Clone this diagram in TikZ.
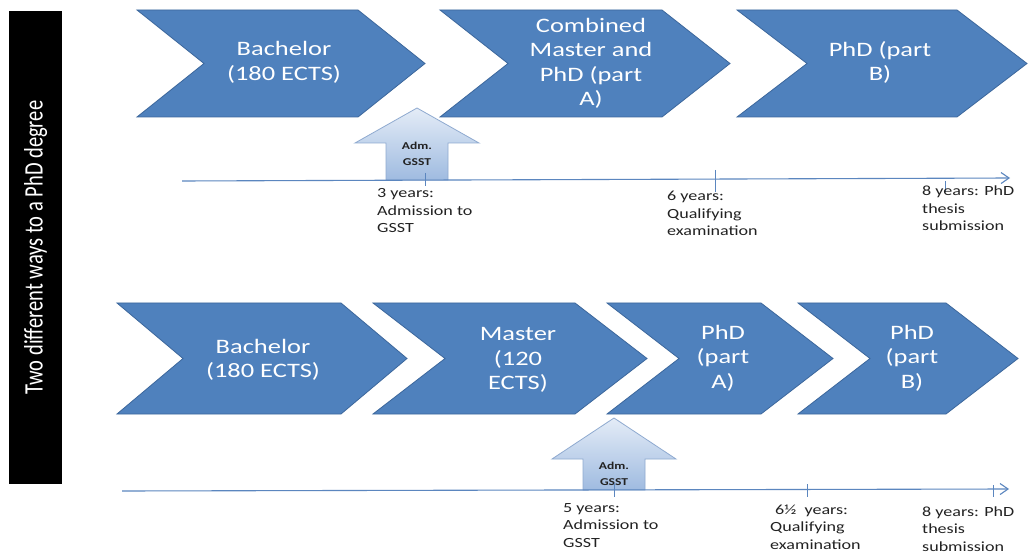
\documentclass[tikz,border=0pt]{standalone}
\usepackage{fontspec}
\setmainfont{Carlito}
\newfontfamily\widefont{Carlito}[FakeStretch=1.29]
\usetikzlibrary{arrows.meta}
\definecolor{chevfill}{HTML}{4F81BD}
\definecolor{chevdraw}{HTML}{3C679C}
\definecolor{linecol}{HTML}{5B86BF}
\definecolor{arrtop}{HTML}{E4ECF7}
\definecolor{arrbot}{HTML}{9FBBE0}
\definecolor{arrdraw}{HTML}{8FAAD0}
\definecolor{labcol}{HTML}{222222}
\tikzset{
 chev/.style={fill=chevfill, draw=chevdraw, line width=0.8pt, line join=miter},
 chevtext/.style={text=white, font=\widefont\fontsize{20.5}{24.5}\selectfont, align=center, inner sep=0},
 admarrow/.style={top color=arrtop, bottom color=arrbot, draw=arrdraw, line width=0.8pt},
 admtext/.style={font=\widefont\bfseries\fontsize{10.5}{12}\selectfont, align=center, inner sep=0, text=labcol},
 timeline/.style={draw=linecol, line width=1.1pt, -{Straight Barb[length=8pt,width=11pt]}},
 tickmark/.style={draw=linecol, line width=1pt},
 lab/.style={font=\widefont\fontsize{14}{17.5}\selectfont, align=left, inner sep=0, anchor=base west, text=labcol},
 bartext/.style={rotate=90, text=white, font=\fontsize{20.5}{24}\selectfont, inner sep=0},
}
\newcommand{\chevshape}[5]{\draw[chev] (#1,#3) -- ({#2-#5},#3) -- (#2,{(#3+#4)/2}) -- ({#2-#5},#4) -- (#1,#4) -- ({#1+#5},{(#3+#4)/2}) -- cycle;}
\newcommand{\admshape}[4]{\draw[admarrow] (#1,#2) -- ({#1+62},#3) -- ({#1+31},#3) -- ({#1+31},#4) -- ({#1-31},#4) -- ({#1-31},#3) -- ({#1-62},#3) -- cycle;}
\begin{document}
\begin{tikzpicture}[x=1pt,y=-1pt]
\useasboundingbox (0,0) rectangle (1028,553);
\fill[white] (0,0) rectangle (1028,553);
% left bar
\node[fill=black, minimum width=53pt, minimum height=473pt, inner sep=0, anchor=north west] (bar) at (9,11) {};
\node[bartext] (bartitle) at (bar.center) {\scalebox{1}[1.3]{Two different ways to a PhD degree}};
% top row chevrons
\chevshape{137}{425}{10}{117}{67}
\chevshape{440}{730}{10}{117}{68}
\chevshape{737}{1027}{10}{117}{70}
\node[chevtext] (c1) at (284,62.5) {Bachelor\\(180 ECTS)};
\node[chevtext] (c2) at (591,63.5) {Combined\\Master and\\PhD (part\\A)};
\node[chevtext] (c3) at (880,62.5) {PhD (part\\B)};
% bottom row chevrons
\chevshape{117}{407}{303}{414}{66}
\chevshape{373}{647}{303}{414}{72}
\chevshape{607}{833}{303}{414}{72}
\chevshape{798}{1018}{303}{414}{72}
\node[chevtext] (b1) at (263,360) {Bachelor\\(180 ECTS)};
\node[chevtext] (b2) at (518,360) {Master\\(120\\ECTS)};
\node[chevtext] (b3) at (723,358) {PhD\\(part\\A)};
\node[chevtext] (b4) at (912,358) {PhD\\(part\\B)};
% admission arrows
\admshape{417}{108}{143}{180}
\admshape{614}{418}{459}{490}
\node[admtext] (adm1) at (417,154) {Adm.\\[4pt]GSST};
\node[admtext] (adm2) at (614,474) {Adm.\\[4pt]GSST};
% timelines
\coordinate (ta) at (182,181);
\coordinate (tb) at (1010,178);
\draw[timeline] (ta) -- (tb);
\draw[tickmark] (425,173) -- (425,186);
\draw[tickmark] (715,170) -- (715,192);
\draw[tickmark] (945,181) -- (945,192);
\coordinate (ba) at (122,491);
\coordinate (bb) at (1009,489);
\draw[timeline] (ba) -- (bb);
\draw[tickmark] (614,483) -- (614,497);
\draw[tickmark] (807,484) -- (807,497);
\draw[tickmark] (993,485) -- (993,497);
% labels (anchor at baseline of last line)
\node[lab] (l1) at (377,233) {3 years:\\Admission to\\GSST};
\node[lab] (l2) at (667,236) {6 years:\\Qualifying\\examination};
\node[lab] (l3) at (922,231) {8 years: PhD\\thesis\\submission};
\node[lab] (l4) at (563,547) {5 years:\\Admission to\\GSST};
\node[lab] (l5) at (770,549) {\hspace{5pt}6½\hspace{4pt} years:\\Qualifying\\examination};
\node[lab] (l6) at (922,551) {8 years: PhD\\thesis\\submission};
\end{tikzpicture}
\end{document}
